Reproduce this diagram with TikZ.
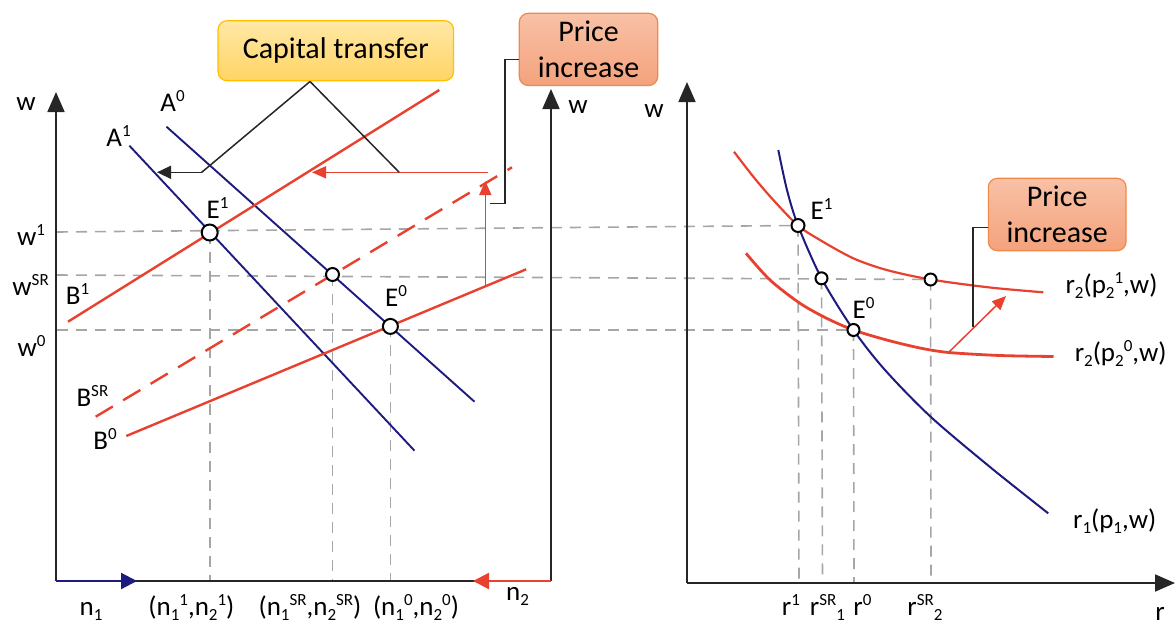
\documentclass[tikz,border=0pt]{standalone}
\usepackage{fontspec}
\setmainfont{Carlito}
\usetikzlibrary{arrows.meta}
\definecolor{navyb}{HTML}{1E1B7E}
\definecolor{redl}{HTML}{E8412F}
\definecolor{dgray}{HTML}{A6A6A6}
\definecolor{ctborder}{HTML}{FFC000}
\definecolor{cttop}{HTML}{FFE8A6}
\definecolor{ctbot}{HTML}{FFD465}
\definecolor{piborder}{HTML}{F0884A}
\definecolor{pitop}{HTML}{F8C1A6}
\definecolor{pibot}{HTML}{F4A27C}
\newcommand\sps[1]{\raisebox{10pt}{\fontsize{17}{17}\selectfont #1}}
\newcommand\sbs[1]{\raisebox{-5pt}{\fontsize{17}{17}\selectfont #1}}
\tikzset{
  blueln/.style={draw=navyb, line width=1.9pt},
  redln/.style={draw=redl, line width=2.4pt},
  gdash/.style={draw=dgray, line width=1.6pt, dash pattern=on 11pt off 8pt},
  axisln/.style={draw=black!85, line width=1.8pt},
  bigtip/.style={-{Triangle[length=20pt,width=17pt]}},
  smalltip/.style={-{Triangle[length=14pt,width=12pt]}},
  eqpt/.style={circle, draw=black, line width=2pt, fill=white, minimum size=#1, inner sep=0pt},
  eqpt/.default=14pt,
  lbl/.style={font=\fontsize{27}{30}\selectfont, inner sep=0pt, anchor=base},
  calloutln/.style={draw=black!85, line width=1.5pt},
  ctbox/.style={rounded corners=9pt, draw=ctborder, line width=1.2pt, top color=cttop, bottom color=ctbot,
    font=\fontsize{30}{36}\selectfont, align=center, inner sep=0pt},
  pibox/.style={rounded corners=9pt, draw=piborder, line width=1.2pt, top color=pitop, bottom color=pibot,
    font=\fontsize{30}{36}\selectfont, align=center, inner sep=0pt},
}
\begin{document}
\begin{tikzpicture}[x=1pt,y=-1pt]
\useasboundingbox (0,0) rectangle (1176,630);
% ---------------- coordinates ----------------
\coordinate (LO) at (56,581);
\coordinate (LT) at (56,92);
\coordinate (RO) at (551,581);
\coordinate (RT) at (551,89);
\coordinate (n1tip) at (137,581);
\coordinate (n2tip) at (473,581);
\coordinate (A1s) at (129.4,145.7); \coordinate (A1e) at (414.5,450.7);
\coordinate (A0s) at (166.5,126.7); \coordinate (A0e) at (474.5,401.7);
\coordinate (B1s) at (68,321.7);    \coordinate (B1e) at (439.3,90);
\coordinate (BSs) at (95.7,416.7);  \coordinate (BSe) at (512,167.3);
\coordinate (B0s) at (126.3,436);   \coordinate (B0e) at (526.2,269.3);
\coordinate (E1L) at (209.7,232.5);
\coordinate (SRL) at (332.5,274.5);
\coordinate (E0L) at (390.4,326.4);
\coordinate (E1Lb) at (209.7,581);
\coordinate (SRLb) at (332.5,581);
\coordinate (E0Lb) at (390.4,581);
\coordinate (w1s) at (57,232);
\coordinate (wSs) at (57,275);
\coordinate (w0s) at (57,330);
% right panel
\coordinate (PO) at (687,583);
\coordinate (PT) at (687,82);
\coordinate (PR) at (1175,583);
\coordinate (E1R) at (798,225.5);
\coordinate (SR1) at (821.5,278.3);
\coordinate (E0R) at (853.5,330);
\coordinate (SR2) at (930.6,279.5);
\coordinate (E1Rb) at (799,583);
\coordinate (SR1b) at (822.5,583);
\coordinate (E0Rb) at (854,583);
\coordinate (SR2b) at (931,583);
% arrows
\coordinate (rhs) at (488,172.3); \coordinate (rht) at (312,172.3);
\coordinate (rvs) at (485.3,286.5); \coordinate (rvt) at (485.3,181);
\coordinate (bhs) at (201.7,172.3); \coordinate (bht) at (157,172.3);
\coordinate (ctapex) at (310,81.5);
\coordinate (ctright) at (399.2,172.3);
\coordinate (pi1a) at (519.3,59.3); \coordinate (pi1b) at (505.2,59.3);
\coordinate (pi1c) at (505.2,203.3); \coordinate (pi1d) at (490,203.3);
\coordinate (pi2a) at (988.3,227.7); \coordinate (pi2b) at (973,227.7);
\coordinate (pi2c) at (973,326.5);
\coordinate (rarS) at (948.5,352.5); \coordinate (rarT) at (1006,296);
% ---------------- dashed guides ----------------
\draw[gdash] (w1s) -- (E1R);
\draw[gdash] (wSs) -- (SR2);
\draw[gdash] (w0s) -- (E0R);
\draw[gdash] (E1L) -- (E1Lb);
\draw[gdash] (SRL) -- (SRLb);
\draw[gdash] (E0L) -- (E0Lb);
\draw[gdash] (E1R) -- (E1Rb);
\draw[gdash] (SR1) -- (SR1b);
\draw[gdash] (E0R) -- (E0Rb);
\draw[gdash] (SR2) -- (SR2b);
% ---------------- left panel axes ----------------
\draw[axisln, bigtip] (LO) -- (LT);
\draw[axisln] (LO) -- (RO);
\draw[axisln, bigtip] (RO) -- (RT);
\draw[navyb, line width=2.2pt, -{Triangle[length=16pt,width=16pt]}] (LO) -- (n1tip);
\draw[redl, line width=2.2pt, -{Triangle[length=16pt,width=16pt]}] (RO) -- (n2tip);
% ---------------- left panel lines ----------------
\draw[blueln] (A1s) -- (A1e);
\draw[blueln] (A0s) -- (A0e);
\draw[redln] (B1s) -- (B1e);
\draw[redln, dash pattern=on 20pt off 12pt] (BSs) -- (BSe);
\draw[redln] (B0s) -- (B0e);
\draw[redl, line width=1.5pt, smalltip] (rhs) -- (rht);
\draw[redl, line width=1.5pt, smalltip] (rvs) -- (rvt);
% callouts
\node[ctbox, minimum width=235.5pt, minimum height=60pt] (ct) at (335.8,50.7) {Capital transfer};
\draw[calloutln] (ctapex) -- (bhs);
\draw[calloutln] (ctapex) -- (ctright);
\draw[calloutln, -{Triangle[length=14pt,width=13pt]}] (bhs) -- (bht);
\node[pibox, minimum width=138.4pt, minimum height=72.2pt] (pi1) at (588.5,49.4) {Price\\increase};
\draw[calloutln] (pi1a) -- (pi1b) -- (pi1c) -- (pi1d);
% points
\node[eqpt=16pt] (pE1L) at (E1L) {};
\node[eqpt=13pt] (pSRL) at (SRL) {};
\node[eqpt=15pt] (pE0L) at (E0L) {};
% ---------------- right panel ----------------
\draw[axisln, bigtip] (PO) -- (PT);
\draw[axisln, bigtip] (PO) -- (PR);
\draw[redl, line width=2.2pt] plot[smooth, tension=0.5] coordinates {(734,151.7) (753.3,176.7) (773.3,200) (798,225.5) (820,240) (853.3,258.3) (886.7,270) (930.6,279.5) (990,287.5) (1043.3,292.3)};
\draw[redl, line width=2.8pt] plot[smooth, tension=0.5] coordinates {(746,253.3) (770,280) (800,303.3) (826.7,318.3) (853.5,330) (886.7,340) (920,348) (949,352.5) (1000,355.5) (1053.5,356.5)};
\draw[navyb, line width=2pt] plot[smooth, tension=0.5] coordinates {(778.3,150) (787,190) (798,225.5) (821.5,278.3) (853.5,330) (885,370) (930.6,416.7) (990,467) (1048.2,513.3)};
\draw[redl, line width=1.5pt, smalltip] (rarS) -- (rarT);
\node[pibox, minimum width=137.7pt, minimum height=72.4pt] (pi2) at (1057.2,214.5) {Price\\increase};
\draw[calloutln] (pi2a) -- (pi2b) -- (pi2c);
\node[eqpt=13pt] (pE1R) at (E1R) {};
\node[eqpt=12pt] (pSR1) at (SR1) {};
\node[eqpt=12pt] (pSR2) at (SR2) {};
\node[eqpt=12pt] (pE0R) at (E0R) {};
% ---------------- labels ----------------
\node[lbl] (lw) at (26,110) {w};
\node[lbl] (lwr) at (578,113) {w};
\node[lbl] (lw1) at (31,245) {w\sps{1}};
\node[lbl] (lwS) at (30.6,295) {w\sps{SR}};
\node[lbl] (lw0) at (31.5,356.7) {w\sps{0}};
\node[lbl] (lB1) at (77.5,304) {B\sps{1}};
\node[lbl] (lBS) at (92.4,406.7) {B\sps{SR}};
\node[lbl] (lB0) at (105,449.3) {B\sps{0}};
\node[lbl] (lA1) at (118.6,146.7) {A\sps{1}};
\node[lbl] (lA0) at (172.6,111) {A\sps{0}};
\node[lbl] (lE1) at (217.6,218.3) {E\sps{1}};
\node[lbl] (lE0) at (396,306.7) {E\sps{0}};
\node[lbl] (ln1) at (91,615) {n\sbs{1}};
\node[lbl] (lc1) at (191.4,615) {(n\sbs{1}\sps{1},n\sbs{2}\sps{1})};
\node[lbl] (lcS) at (310,615) {(n\sbs{1}\sps{SR},n\sbs{2}\sps{SR})};
\node[lbl] (lc0) at (416,615) {(n\sbs{1}\sps{0},n\sbs{2}\sps{0})};
\node[lbl] (ln2) at (517.6,600) {n\sbs{2}};
\node[lbl] (rw) at (654,117.3) {w};
\node[lbl] (rE1) at (821.6,219) {E\sps{1}};
\node[lbl] (rE0) at (863.5,318) {E\sps{0}};
\node[lbl] (rr21) at (1111.5,293.3) {r\sbs{2}(p\sbs{2}\sps{1},w)};
\node[lbl] (rr20) at (1120.7,361.7) {r\sbs{2}(p\sbs{2}\sps{0},w)};
\node[lbl] (rr1) at (1114.7,528.3) {r\sbs{1}(p\sbs{1},w)};
\node[lbl] (rt1) at (791,615) {r\sps{1}};
\node[lbl] (rtS1) at (827.4,615) {r\sps{SR}\sbs{1}};
\node[lbl] (rt0) at (862.4,615) {r\sps{0}};
\node[lbl] (rtS2) at (925,615) {r\sps{SR}\sbs{2}};
\node[lbl] (rr) at (1160,620) {r};
\end{tikzpicture}
\end{document}
